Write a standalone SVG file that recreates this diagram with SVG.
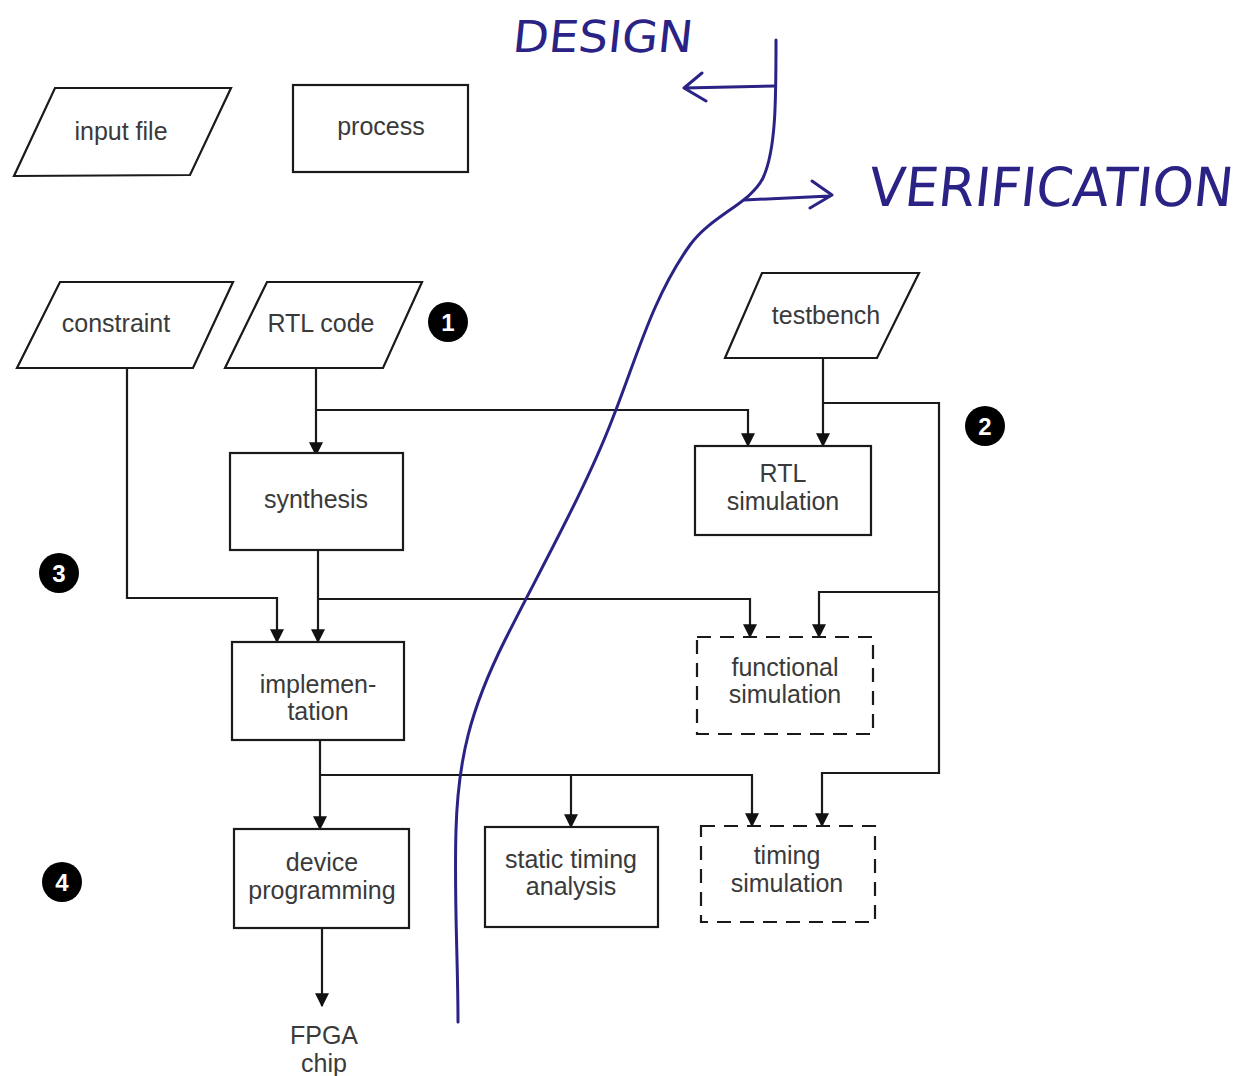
<svg xmlns="http://www.w3.org/2000/svg" width="1236" height="1076" viewBox="0 0 1236 1076">
  <style>
    .shape { fill: #ffffff; stroke: #1a1a1a; stroke-width: 2.2; }
    .dash { fill: #ffffff; stroke: #1a1a1a; stroke-width: 2.2; stroke-dasharray: 14 9; }
    .lbl { font-family: "Liberation Sans", Arial, sans-serif; font-size: 25px; fill: #3a3a3a; text-anchor: middle; }
    .wire { fill: none; stroke: #1a1a1a; stroke-width: 2.2; }
    .badge { fill: #000000; }
    .num { font-family: "Liberation Sans", Arial, sans-serif; font-size: 24px; font-weight: bold; fill: #ffffff; text-anchor: middle; }
    .ink { fill: none; stroke: #2a2385; stroke-width: 3; stroke-linecap: round; stroke-linejoin: round; }
    .hand { font-family: "DejaVu Sans Condensed", "DejaVu Sans", sans-serif; fill: #2a2385; }
  </style>
  <defs>
    <marker id="tri" viewBox="0 0 12 12" refX="11" refY="6" markerWidth="14" markerHeight="14" markerUnits="userSpaceOnUse" orient="auto">
      <path d="M0,0 L12,6 L0,12 z" fill="#111111"/>
    </marker>
  </defs>

  <rect width="1236" height="1076" fill="#ffffff"/>

  <!-- legend -->
  <g id="legend-input">
    <polygon class="shape" points="55,88 231,88 190,175 14,176"/>
    <text class="lbl" x="121" y="140">input file</text>
  </g>
  <g id="legend-process">
    <rect class="shape" x="293" y="85" width="175" height="87"/>
    <text class="lbl" x="381" y="135">process</text>
  </g>

  <!-- connectors -->
  <g id="connectors">
    <!-- RTL code -> synthesis, RTL simulation -->
    <polyline class="wire" points="316,368 316,455" marker-end="url(#tri)"/>
    <polyline class="wire" points="316,410 748,410 748,446" marker-end="url(#tri)"/>
    <!-- testbench -> RTL simulation, functional/timing simulation -->
    <polyline class="wire" points="823,358 823,446" marker-end="url(#tri)"/>
    <polyline class="wire" points="823,403 939,403 939,773 822,773 822,826" marker-end="url(#tri)"/>
    <polyline class="wire" points="939,592 819,592 819,637" marker-end="url(#tri)"/>
    <!-- constraint -> implementation -->
    <polyline class="wire" points="127,368 127,598 277,598 277,642" marker-end="url(#tri)"/>
    <!-- synthesis -> implementation, functional simulation -->
    <polyline class="wire" points="318,550 318,642" marker-end="url(#tri)"/>
    <polyline class="wire" points="318,599 750,599 750,637" marker-end="url(#tri)"/>
    <!-- implementation -> device programming, STA, timing simulation -->
    <polyline class="wire" points="320,740 320,829" marker-end="url(#tri)"/>
    <polyline class="wire" points="320,775 752,775 752,826" marker-end="url(#tri)"/>
    <polyline class="wire" points="571,775 571,827" marker-end="url(#tri)"/>
    <!-- device programming -> FPGA chip -->
    <polyline class="wire" points="322,928 322,1006" marker-end="url(#tri)"/>
  </g>

  <!-- inputs -->
  <g id="constraint">
    <polygon class="shape" points="60,282 233,282 193,368 17,368"/>
    <text class="lbl" x="116" y="332">constraint</text>
  </g>
  <g id="rtl-code">
    <polygon class="shape" points="267,282 422,282 383,368 225,368"/>
    <text class="lbl" x="321" y="332">RTL code</text>
  </g>
  <g id="testbench">
    <polygon class="shape" points="762,273 919,273 877,358 725,358"/>
    <text class="lbl" x="826" y="324">testbench</text>
  </g>

  <!-- process steps -->
  <g id="synthesis">
    <rect class="shape" x="230" y="453" width="173" height="97"/>
    <text class="lbl" x="316" y="508">synthesis</text>
  </g>
  <g id="rtl-simulation">
    <rect class="shape" x="695" y="446" width="176" height="89"/>
    <text class="lbl" x="783" y="482">RTL</text>
    <text class="lbl" x="783" y="510">simulation</text>
  </g>
  <g id="implementation">
    <rect class="shape" x="232" y="642" width="172" height="98"/>
    <text class="lbl" x="318" y="693">implemen-</text>
    <text class="lbl" x="318" y="720">tation</text>
  </g>
  <g id="functional-simulation">
    <rect class="dash" x="697" y="637" width="176" height="97"/>
    <text class="lbl" x="785" y="676">functional</text>
    <text class="lbl" x="785" y="703">simulation</text>
  </g>
  <g id="device-programming">
    <rect class="shape" x="234" y="829" width="175" height="99"/>
    <text class="lbl" x="322" y="871">device</text>
    <text class="lbl" x="322" y="899">programming</text>
  </g>
  <g id="static-timing-analysis">
    <rect class="shape" x="485" y="827" width="173" height="100"/>
    <text class="lbl" x="571" y="868">static timing</text>
    <text class="lbl" x="571" y="895">analysis</text>
  </g>
  <g id="timing-simulation">
    <rect class="dash" x="701" y="826" width="174" height="96"/>
    <text class="lbl" x="787" y="864">timing</text>
    <text class="lbl" x="787" y="892">simulation</text>
  </g>
  <g id="fpga-chip">
    <text class="lbl" x="324" y="1044">FPGA</text>
    <text class="lbl" x="324" y="1072">chip</text>
  </g>

  <!-- step badges -->
  <g id="badge-1"><circle class="badge" cx="448" cy="322" r="20"/><text class="num" x="448" y="331">1</text></g>
  <g id="badge-2"><circle class="badge" cx="985" cy="426" r="20"/><text class="num" x="985" y="435">2</text></g>
  <g id="badge-3"><circle class="badge" cx="59" cy="573" r="20"/><text class="num" x="59" y="582">3</text></g>
  <g id="badge-4"><circle class="badge" cx="62" cy="882" r="20"/><text class="num" x="62" y="891">4</text></g>

  <!-- hand-drawn design / verification split -->
  <g id="split">
    <path class="ink" d="M776,40 C776,100 776,150 763,178 C750,204 712,215 690,245 C652,298 636,360 612,420 C585,490 540,570 505,640 C470,710 458,760 456,830 C454,900 458,960 458,1022"/>
    <path class="ink" d="M775,86 L684,88 M702,73 L684,88 L706,101"/>
    <path class="ink" d="M744,200 L830,196 M812,181 L832,195 L810,208"/>
    <text class="hand" x="512" y="52" font-size="44" textLength="180" lengthAdjust="spacingAndGlyphs" transform="translate(5,0) skewX(-6) translate(0,0)">DESIGN</text>
    <text class="hand" x="868" y="206" font-size="54" textLength="364" lengthAdjust="spacingAndGlyphs" transform="translate(21,0) skewX(-6)">VERIFICATION</text>
  </g>
</svg>
